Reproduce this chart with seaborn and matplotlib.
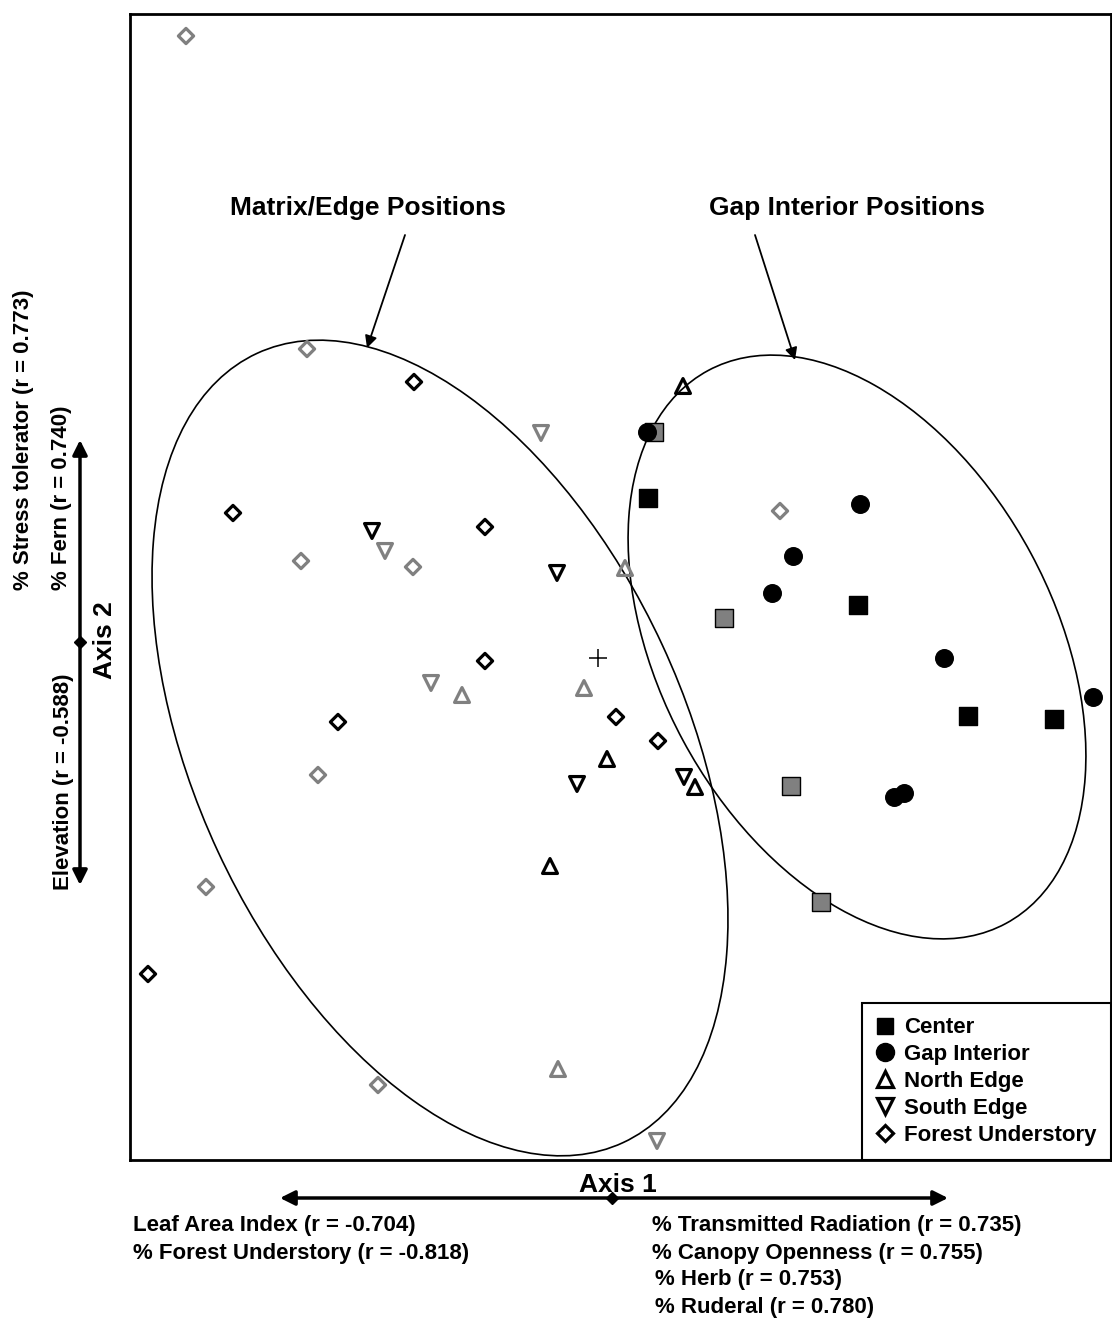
import numpy as np
import pandas as pd
import matplotlib
matplotlib.use("Agg")
import matplotlib.pyplot as plt
import seaborn as sns
from matplotlib.patches import Ellipse
from matplotlib.lines import Line2D

# ---------------- data (ordination scores, plot units) ----------------
center_black_x = [518, 728, 838, 924]
center_black_y = [662, 555, 444, 441]
center_gray_x = [524, 594, 661, 691]
center_gray_y = [728, 542, 374, 258]
gap_black_x = [517, 730, 663, 642, 814, 963, 764, 774]
gap_black_y = [728, 656, 604, 567, 502, 463, 363, 367]
north_black_x = [553, 477, 565, 420]
north_black_y = [774, 401, 373, 294]
north_gray_x = [495, 332, 454, 428]
north_gray_y = [592, 465, 472, 91]
south_black_x = [242, 427, 447, 554]
south_black_y = [629, 587, 376, 383]
south_gray_x = [411, 255, 301, 527]
south_gray_y = [727, 609, 477, 19]
forest_black_x = [284, 103, 355, 355, 208, 486, 528, 18]
forest_black_y = [778, 647, 633, 499, 438, 443, 419, 186]
forest_gray_x = [56, 177, 171, 283, 650, 188, 76, 248]
forest_gray_y = [1124, 811, 599, 593, 649, 385, 273, 75]

centroid_x = [468]
centroid_y = [502]

# ellipses: centre x, centre y, width, height, angle
ellipse_cx = [310, 727]
ellipse_cy = [412, 513]
ellipse_w = [870, 628]
ellipse_h = [490, 395]
ellipse_ang = [-65.1, -61.7]

groups = ["Center", "Gap Interior", "North Edge", "South Edge", "Forest Understory"]

axis1_neg = ["Leaf Area Index (r = -0.704)", "% Forest Understory (r = -0.818)"]
axis1_pos = ["% Transmitted Radiation (r = 0.735)", "% Canopy Openness (r = 0.755)",
             "% Herb (r = 0.753)", "% Ruderal (r = 0.780)"]
axis2_pos = ["% Stress tolerator (r = 0.773)", "% Fern (r = 0.740)"]
axis2_neg = ["Elevation (r = -0.588)"]

# ---------------- build table ----------------
rows = []
def add(xs, ys, pos, shade):
    for a, b in zip(xs, ys):
        rows.append(dict(x=a, y=b, position=pos, shade=shade))

add(center_black_x, center_black_y, "Center", "black")
add(center_gray_x, center_gray_y, "Center", "gray")
add(gap_black_x, gap_black_y, "Gap Interior", "black")
add(north_black_x, north_black_y, "North Edge", "black")
add(north_gray_x, north_gray_y, "North Edge", "gray")
add(south_black_x, south_black_y, "South Edge", "black")
add(south_gray_x, south_gray_y, "South Edge", "gray")
add(forest_black_x, forest_black_y, "Forest Understory", "black")
add(forest_gray_x, forest_gray_y, "Forest Understory", "gray")
df = pd.DataFrame(rows)

# ---------------- style ----------------
sns.set_style("white")
plt.rcParams["font.family"] = ["Liberation Sans", "DejaVu Sans"]
plt.rcParams["font.weight"] = "bold"
plt.rcParams["text.color"] = "black"
plt.rcParams["axes.labelcolor"] = "black"

GRAY = "#808080"
marker_map = {"Center": "s", "Gap Interior": "o", "North Edge": "^",
              "South Edge": "v", "Forest Understory": "D"}
size_map = {"Center": 165, "Gap Interior": 160, "North Edge": 115,
            "South Edge": 115, "Forest Understory": 60}
filled = {"Center", "Gap Interior"}

fig = plt.figure(figsize=(11.12, 13.22), dpi=100)
ax = fig.add_axes([130 / 1112, 1 - 1160 / 1322, 981 / 1112, 1146 / 1322])

for (pos, shade), sub in df.groupby(["position", "shade"], sort=False):
    col = "k" if shade == "black" else GRAY
    if pos in filled:
        fc = col
        ec = "k"
        lw = 1.0
    else:
        fc = "none"
        ec = col
        lw = 2.3
    sns.scatterplot(data=sub, x="x", y="y", marker=marker_map[pos], s=size_map[pos],
                    color=col, facecolor=fc, edgecolor=ec, linewidth=lw,
                    ax=ax, legend=False, zorder=3)

sns.scatterplot(x=centroid_x, y=centroid_y, marker="+", s=150, color="k",
                linewidth=1.1, ax=ax, legend=False, zorder=3)

for cx, cy, w, h, a in zip(ellipse_cx, ellipse_cy, ellipse_w, ellipse_h, ellipse_ang):
    ax.add_patch(Ellipse((cx, cy), w, h, angle=a, fill=False, ec="k", lw=1.2, zorder=2))

ax.set_xlim(0, 981)
ax.set_ylim(0, 1146)
ax.set_xticks([])
ax.set_yticks([])
ax.set_xlabel("")
ax.set_ylabel("")
for sp in ax.spines.values():
    sp.set_visible(True)
    sp.set_color("k")
    sp.set_linewidth(2)

TXT = dict(color="black", fontweight="bold")

# group annotations
ax.text(238, 952, "Matrix/Edge Positions", ha="center", va="center", fontsize=19, **TXT)
ax.text(717, 952, "Gap Interior Positions", ha="center", va="center", fontsize=19, **TXT)
ax.annotate("", xy=(237, 812), xytext=(275, 925),
            arrowprops=dict(arrowstyle="-|>", color="k", lw=1.3, mutation_scale=18,
                            shrinkA=0, shrinkB=0))
ax.annotate("", xy=(665, 800), xytext=(625, 925),
            arrowprops=dict(arrowstyle="-|>", color="k", lw=1.3, mutation_scale=18,
                            shrinkA=0, shrinkB=0))

# legend
handles = [
    Line2D([], [], ls="none", marker="s", ms=12, mfc="k", mec="k"),
    Line2D([], [], ls="none", marker="o", ms=13, mfc="k", mec="k"),
    Line2D([], [], ls="none", marker="^", ms=11, mfc="none", mec="k", mew=2.3),
    Line2D([], [], ls="none", marker="v", ms=11, mfc="none", mec="k", mew=2.3),
    Line2D([], [], ls="none", marker="D", ms=8, mfc="none", mec="k", mew=2.3),
]
leg = ax.legend(handles, groups, loc="lower right", bbox_to_anchor=(1, 0),
                borderaxespad=0, frameon=True, fancybox=False, framealpha=1,
                edgecolor="k", prop=dict(size=16, weight="bold"),
                handlelength=0.8, handletextpad=0.45, labelspacing=0.26,
                borderpad=0.65)
leg.get_frame().set_linewidth(1.5)
for t in leg.get_texts():
    t.set_color("black")

# axis 1 vector
ax.text(488, -25, "Axis 1", ha="center", va="center", fontsize=19, **TXT)
ax.annotate("", xy=(818, -38), xytext=(150, -38),
            arrowprops=dict(arrowstyle="<|-|>", color="k", lw=2.5, mutation_scale=22,
                            shrinkA=0, shrinkB=0), annotation_clip=False)
ax.plot([482], [-38], marker="D", ms=6, color="k", clip_on=False)
for i, t in enumerate(axis1_neg):
    ax.text(3, -66 - 27 * i, t, ha="left", va="center", fontsize=16, **TXT)
for i, t in enumerate(axis1_pos):
    ax.text(522 if i < 2 else 525, -66 - 27 * i, t, ha="left", va="center",
            fontsize=16, **TXT)

# axis 2 vector
ax.text(-25, 520, "Axis 2", ha="center", va="center", rotation=90, fontsize=19, **TXT)
ax.annotate("", xy=(-50, 720), xytext=(-50, 275),
            arrowprops=dict(arrowstyle="<|-|>", color="k", lw=2.5, mutation_scale=22,
                            shrinkA=0, shrinkB=0), annotation_clip=False)
ax.plot([-50], [518], marker="D", ms=6, color="k", clip_on=False)
ax.text(-107, 570, axis2_pos[0], ha="center", va="bottom", rotation=90, fontsize=16, **TXT)
ax.text(-69, 570, axis2_pos[1], ha="center", va="bottom", rotation=90, fontsize=16, **TXT)
ax.text(-67, 270, axis2_neg[0], ha="center", va="bottom", rotation=90, fontsize=16, **TXT)

fig.savefig("out.png", dpi=100)
